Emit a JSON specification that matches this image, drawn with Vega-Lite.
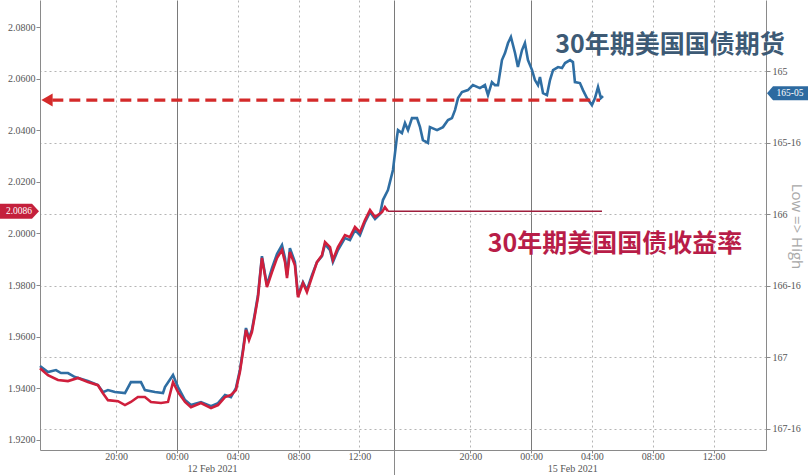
{
  "$schema": "https://vega.github.io/schema/vega-lite/v6.json",
  "width": 726,
  "height": 450,
  "autosize": {"type": "none"},
  "padding": {"left": 40, "top": 0, "right": 44, "bottom": 25},
  "background": "white",
  "config": {
    "view": {"stroke": null},
    "axis": {"labelFont": "Liberation Sans Narrow", "labelFontSize": 10, "labelColor": "#555555", "domainColor": "#8a8a8a", "tickColor": "#8a8a8a", "titleFont": "Open Sans"}
  },
  "datasets": {
    "yield": [
      {"h": -9.01, "v": 1.9478}, {"h": -8.49, "v": 1.9451}, {"h": -7.83, "v": 1.9432}, {"h": -7.17, "v": 1.9428}, {"h": -6.51, "v": 1.944}, {"h": -5.86, "v": 1.9424}, {"h": -5.2, "v": 1.9412}, {"h": -4.87, "v": 1.9381}, {"h": -4.54, "v": 1.9354}, {"h": -3.88, "v": 1.935}, {"h": -3.42, "v": 1.9335}, {"h": -3.03, "v": 1.9347}, {"h": -2.57, "v": 1.9366}, {"h": -2.11, "v": 1.9366}, {"h": -1.71, "v": 1.9347}, {"h": -1.05, "v": 1.9343}, {"h": -0.59, "v": 1.9347}, {"h": -0.26, "v": 1.9424}, {"h": 0.07, "v": 1.9385}, {"h": 0.53, "v": 1.9347}, {"h": 0.92, "v": 1.9327}, {"h": 1.58, "v": 1.9343}, {"h": 2.24, "v": 1.9323}, {"h": 2.7, "v": 1.9335}, {"h": 3.16, "v": 1.9366}, {"h": 3.55, "v": 1.9374}, {"h": 3.88, "v": 1.9393}, {"h": 4.14, "v": 1.9463}, {"h": 4.34, "v": 1.954}, {"h": 4.54, "v": 1.9626}, {"h": 4.74, "v": 1.9587}, {"h": 4.93, "v": 1.9618}, {"h": 5.13, "v": 1.9684}, {"h": 5.33, "v": 1.9753}, {"h": 5.59, "v": 1.9905}, {"h": 5.92, "v": 1.9792}, {"h": 6.25, "v": 1.985}, {"h": 6.58, "v": 1.9905}, {"h": 6.91, "v": 1.9936}, {"h": 7.11, "v": 1.9889}, {"h": 7.24, "v": 1.9827}, {"h": 7.43, "v": 1.9928}, {"h": 7.76, "v": 1.9877}, {"h": 7.96, "v": 1.9753}, {"h": 8.29, "v": 1.9808}, {"h": 8.55, "v": 1.9773}, {"h": 8.88, "v": 1.9831}, {"h": 9.21, "v": 1.9889}, {"h": 9.54, "v": 1.9916}, {"h": 9.74, "v": 1.9967}, {"h": 10.07, "v": 1.9947}, {"h": 10.26, "v": 1.9897}, {"h": 10.59, "v": 1.9947}, {"h": 11.05, "v": 1.9994}, {"h": 11.38, "v": 1.9986}, {"h": 11.71, "v": 2.0025}, {"h": 12.04, "v": 2.0005}, {"h": 12.37, "v": 2.0052}, {"h": 12.7, "v": 2.0091}, {"h": 13.03, "v": 2.0064}, {"h": 13.49, "v": 2.0083}, {"h": 13.68, "v": 2.0102}, {"h": 13.88, "v": 2.0086}
    ],
    "flat": [{"h": 13.88, "v": 2.0086}, {"h": 27.96, "v": 2.0086}],
    "fut": [
      {"h": -9.01, "p": 167.063}, {"h": -8.49, "p": 167.105}, {"h": -7.96, "p": 167.091}, {"h": -7.63, "p": 167.112}, {"h": -7.17, "p": 167.112}, {"h": -6.71, "p": 167.14}, {"h": -5.86, "p": 167.168}, {"h": -5.2, "p": 167.196}, {"h": -4.87, "p": 167.245}, {"h": -4.54, "p": 167.231}, {"h": -4.08, "p": 167.245}, {"h": -3.42, "p": 167.252}, {"h": -3.03, "p": 167.175}, {"h": -2.37, "p": 167.175}, {"h": -2.11, "p": 167.231}, {"h": -1.45, "p": 167.245}, {"h": -0.92, "p": 167.252}, {"h": -0.79, "p": 167.21}, {"h": -0.26, "p": 167.126}, {"h": 0.07, "p": 167.21}, {"h": 0.53, "p": 167.301}, {"h": 0.92, "p": 167.336}, {"h": 1.58, "p": 167.315}, {"h": 2.24, "p": 167.343}, {"h": 2.7, "p": 167.322}, {"h": 3.16, "p": 167.266}, {"h": 3.55, "p": 167.28}, {"h": 3.88, "p": 167.217}, {"h": 4.14, "p": 167.091}, {"h": 4.34, "p": 166.951}, {"h": 4.54, "p": 166.797}, {"h": 4.74, "p": 166.867}, {"h": 4.93, "p": 166.811}, {"h": 5.13, "p": 166.692}, {"h": 5.33, "p": 166.566}, {"h": 5.59, "p": 166.294}, {"h": 5.92, "p": 166.497}, {"h": 6.25, "p": 166.378}, {"h": 6.58, "p": 166.28}, {"h": 6.91, "p": 166.217}, {"h": 7.11, "p": 166.308}, {"h": 7.24, "p": 166.427}, {"h": 7.43, "p": 166.238}, {"h": 7.76, "p": 166.336}, {"h": 7.96, "p": 166.566}, {"h": 8.29, "p": 166.476}, {"h": 8.55, "p": 166.531}, {"h": 8.88, "p": 166.427}, {"h": 9.21, "p": 166.336}, {"h": 9.54, "p": 166.294}, {"h": 9.74, "p": 166.21}, {"h": 10.07, "p": 166.252}, {"h": 10.26, "p": 166.336}, {"h": 10.59, "p": 166.252}, {"h": 11.05, "p": 166.168}, {"h": 11.38, "p": 166.182}, {"h": 11.71, "p": 166.112}, {"h": 12.04, "p": 166.147}, {"h": 12.37, "p": 166.056}, {"h": 12.7, "p": 165.986}, {"h": 13.03, "p": 166.035}, {"h": 13.36, "p": 166.0}, {"h": 13.55, "p": 165.902}, {"h": 13.88, "p": 165.832}, {"h": 14.21, "p": 165.692}, {"h": 14.47, "p": 165.462}, {"h": 14.54, "p": 165.413}, {"h": 14.8, "p": 165.434}, {"h": 15.0, "p": 165.364}, {"h": 15.2, "p": 165.413}, {"h": 15.46, "p": 165.329}, {"h": 15.79, "p": 165.329}, {"h": 15.99, "p": 165.392}, {"h": 16.18, "p": 165.483}, {"h": 16.51, "p": 165.503}, {"h": 16.64, "p": 165.392}, {"h": 17.11, "p": 165.413}, {"h": 17.5, "p": 165.392}, {"h": 17.83, "p": 165.343}, {"h": 18.09, "p": 165.329}, {"h": 18.29, "p": 165.273}, {"h": 18.49, "p": 165.189}, {"h": 18.75, "p": 165.147}, {"h": 19.14, "p": 165.133}, {"h": 19.47, "p": 165.098}, {"h": 19.93, "p": 165.119}, {"h": 20.26, "p": 165.098}, {"h": 20.46, "p": 165.168}, {"h": 20.72, "p": 165.077}, {"h": 20.92, "p": 165.098}, {"h": 21.12, "p": 165.098}, {"h": 21.38, "p": 164.923}, {"h": 21.58, "p": 164.874}, {"h": 21.78, "p": 164.804}, {"h": 21.97, "p": 164.762}, {"h": 22.24, "p": 164.874}, {"h": 22.43, "p": 164.972}, {"h": 22.7, "p": 164.853}, {"h": 22.89, "p": 164.804}, {"h": 23.09, "p": 164.923}, {"h": 23.36, "p": 164.993}, {"h": 23.55, "p": 165.063}, {"h": 23.75, "p": 165.098}, {"h": 23.88, "p": 165.042}, {"h": 24.08, "p": 165.154}, {"h": 24.34, "p": 165.168}, {"h": 24.54, "p": 165.063}, {"h": 24.74, "p": 164.993}, {"h": 25.07, "p": 164.972}, {"h": 25.33, "p": 164.979}, {"h": 25.53, "p": 164.944}, {"h": 25.86, "p": 164.923}, {"h": 26.05, "p": 164.937}, {"h": 26.18, "p": 165.077}, {"h": 26.51, "p": 165.084}, {"h": 26.71, "p": 165.133}, {"h": 26.97, "p": 165.189}, {"h": 27.3, "p": 165.238}, {"h": 27.5, "p": 165.189}, {"h": 27.7, "p": 165.112}, {"h": 27.89, "p": 165.189}, {"h": 28.03, "p": 165.175}
    ]
  },
  "layer": [
    {
      "layer": [
        {
          "data": {"name": "fut"},
          "mark": {"type": "line", "color": "#2f6ea3", "strokeWidth": 2.6},
          "encoding": {
            "x": {
              "field": "h", "type": "quantitative",
              "scale": {"domain": [-9.01, 38.75], "nice": false, "zero": false},
              "axis": {"orient": "bottom", "title": null, "values": [2.3, 26.0], "labelExpr": "datum.value < 10 ? '12 Feb 2021' : '15 Feb 2021'", "ticks": false, "domain": false, "grid": false, "labelPadding": 13, "labelBaseline": "top", "labelColor": "#555555"}
            },
            "y": {
              "field": "p", "type": "quantitative",
              "scale": {"domain": [164.503, 167.65], "reverse": true, "nice": false, "zero": false},
              "axis": {
                "orient": "right", "title": "Low => High", "titleAngle": 90, "titleX": 30, "titleY": 226, "titleAlign": "center", "titleBaseline": "middle", "titleFontSize": 15, "titleFontWeight": "normal", "titleColor": "#a8a8a8",
                "values": [165, 165.5, 166, 166.5, 167, 167.5],
                "labelExpr": "datum.value % 1 == 0 ? format(datum.value, 'd') : floor(datum.value) + '-16'",
                "grid": true, "gridDash": [2, 3], "gridColor": "#b5b5b5", "tickSize": 4, "labelPadding": 2
              }
            }
          }
        },
        {
          "data": {"values": [{"p": 165.156, "lab": "165-05"}]},
          "mark": {"type": "point", "filled": true, "size": 1600, "opacity": 1, "color": "#2d6aa0", "shape": "M0.05,0L0.35,-0.35L2.1,-0.35L2.1,0.35L0.35,0.35Z"},
          "encoding": {"x": {"datum": 38.75, "type": "quantitative"}, "y": {"field": "p", "type": "quantitative"}}
        },
        {
          "data": {"values": [{"p": 165.156, "lab": "165-05"}]},
          "mark": {"type": "text", "color": "white", "fontSize": 9.5, "font": "Liberation Sans Narrow", "dx": 24, "align": "center", "baseline": "middle"},
          "encoding": {"x": {"datum": 38.75, "type": "quantitative"}, "y": {"field": "p", "type": "quantitative"}, "text": {"field": "lab"}}
        }
      ]
    },
    {
      "layer": [
        {
          "data": {"name": "flat"},
          "mark": {"type": "line", "color": "#9e1f3d", "strokeWidth": 1.6},
          "encoding": {
            "x": {
              "field": "h", "type": "quantitative",
              "axis": {
                "orient": "bottom",
                "title": null,
                "values": [-4, 0, 4, 8, 12, 14.28, 19.3, 23.3, 27.3, 31.3, 35.3],
                "labelExpr": "datum.value == -4 || datum.value == 19.3 ? '20:00' : datum.value == 0 || datum.value == 23.3 ? '00:00' : datum.value == 4 || datum.value == 27.3 ? '04:00' : datum.value == 8 || datum.value == 31.3 ? '08:00' : datum.value == 12 || datum.value == 35.3 ? '12:00' : ''",
                "grid": true,
                "gridDash": {"condition": {"test": "datum.value == 0 || datum.value == 23.3 || datum.value == 14.28", "value": []}, "value": [2, 3]},
                "gridColor": {"condition": {"test": "datum.value == 0 || datum.value == 23.3 || datum.value == 14.28", "value": "#7a7a7a"}, "value": "#b5b5b5"},
                "tickSize": {"condition": {"test": "datum.value == 14.28", "value": 25}, "value": 3},
                "labelPadding": -2,
                "labelBaseline": "top"
              }
            },
            "y": {
              "field": "v", "type": "quantitative",
              "scale": {"domain": [1.91608, 2.0905], "nice": false, "zero": false},
              "axis": {"orient": "left", "title": null, "values": [1.92, 1.94, 1.96, 1.98, 2.0, 2.02, 2.04, 2.06, 2.08], "format": ".4f", "grid": false, "tickSize": 4, "labelPadding": 1}
            }
          }
        },
        {
          "data": {"name": "yield"},
          "mark": {"type": "line", "color": "#cf1f3c", "strokeWidth": 2.6},
          "encoding": {"x": {"field": "h", "type": "quantitative"}, "y": {"field": "v", "type": "quantitative"}}
        },
        {
          "data": {"values": [{"a": -8.2, "b": 27.83, "v": 2.0517}]},
          "mark": {"type": "rule", "color": "#d42a2a", "strokeWidth": 3.2, "strokeDash": [11, 6]},
          "encoding": {"x": {"field": "a", "type": "quantitative"}, "x2": {"field": "b"}, "y": {"field": "v", "type": "quantitative"}}
        },
        {
          "data": {"values": [{"a": -8.55, "v": 2.0517}]},
          "mark": {"type": "point", "shape": "triangle-left", "filled": true, "size": 170, "opacity": 1, "color": "#d42a2a"},
          "encoding": {"x": {"field": "a", "type": "quantitative"}, "y": {"field": "v", "type": "quantitative"}}
        },
        {
          "data": {"values": [{"a": -9.01, "v": 2.0086, "lab": "2.0086"}]},
          "mark": {"type": "point", "filled": true, "size": 1600, "opacity": 1, "color": "#c4203c", "shape": "M-2,-0.375L-0.4,-0.375L-0.05,0L-0.4,0.375L-2,0.375Z"},
          "encoding": {"x": {"field": "a", "type": "quantitative"}, "y": {"field": "v", "type": "quantitative"}}
        },
        {
          "data": {"values": [{"a": -9.01, "v": 2.0086, "lab": "2.0086"}]},
          "mark": {"type": "text", "color": "white", "fontSize": 9.5, "font": "Liberation Sans Narrow", "dx": -21, "align": "center", "baseline": "middle"},
          "encoding": {"x": {"field": "a", "type": "quantitative"}, "y": {"field": "v", "type": "quantitative"}, "text": {"field": "lab"}}
        },
        {
          "data": {"values": [
            {"a": 32.43, "v": 2.073, "lab": "30年期美国国债期货", "c": "fut"},
            {"a": 28.82, "v": 1.9959, "lab": "30年期美国国债收益率", "c": "yld"}
          ]},
          "mark": {"type": "text", "font": "Noto Sans CJK SC", "fontWeight": "bold", "fontSize": 25, "align": "center", "baseline": "middle"},
          "encoding": {
            "x": {"field": "a", "type": "quantitative"},
            "y": {"field": "v", "type": "quantitative"},
            "text": {"field": "lab"},
            "color": {"field": "c", "type": "nominal", "scale": {"domain": ["fut", "yld"], "range": ["#3d5a75", "#b81d48"]}, "legend": null}
          }
        }
      ]
    }
  ],
  "resolve": {"scale": {"y": "independent"}, "axis": {"x": "independent"}}
}
